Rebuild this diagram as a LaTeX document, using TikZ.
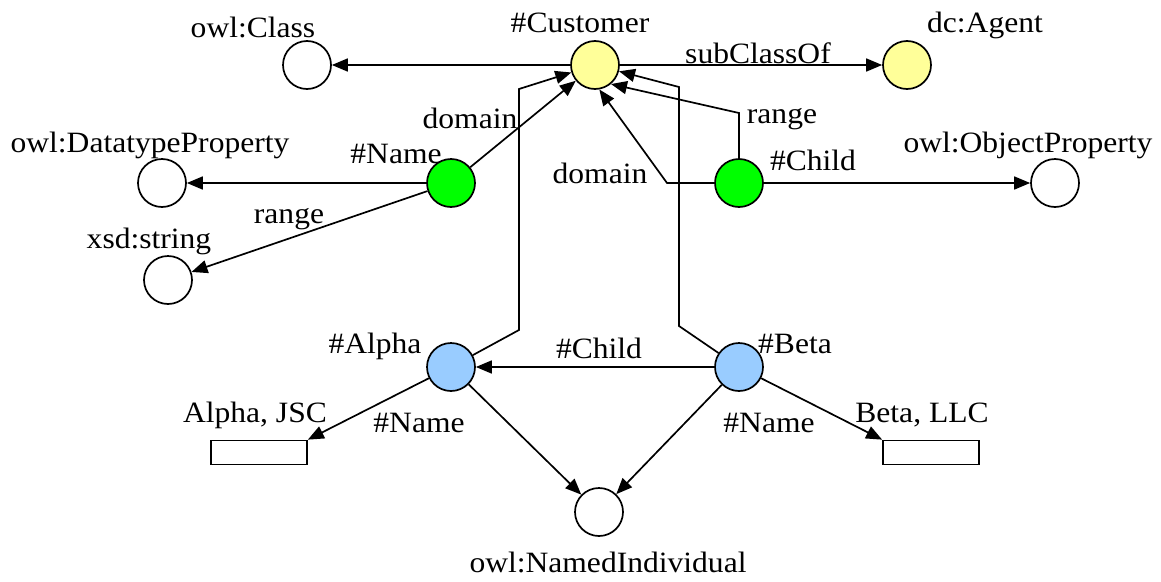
\documentclass[tikz,border=0pt]{standalone}
\usepackage{fontspec}
\setmainfont{Liberation Serif}[FakeStretch=1.07]
\usetikzlibrary{arrows.meta}
\definecolor{cyellow}{HTML}{FFFF99}
\definecolor{cgreen}{HTML}{00FF00}
\definecolor{cblue}{HTML}{99CCFF}
\begin{document}
\begin{tikzpicture}[x=1pt,y=-1pt,font=\fontsize{29.5}{34}\selectfont,
  res/.style={circle,draw,line width=1.7pt,minimum size=48pt,inner sep=0pt,fill=white},
  lit/.style={rectangle,draw,line width=1.7pt,minimum width=96pt,minimum height=24pt,inner sep=0pt,fill=white},
  txt/.style={anchor=base,inner sep=0pt},
  link/.style={line width=1.7pt,-{Triangle[length=16pt,width=13pt]}}]
\useasboundingbox (0,0) rectangle (1161,581);
% resources
\node[res] (class) at (307,65) {};
\node[res,fill=cyellow] (customer) at (595,65) {};
\node[res,fill=cyellow] (agent) at (907,65) {};
\node[res] (dtp) at (162,183) {};
\node[res,fill=cgreen] (name) at (451,183) {};
\node[res,fill=cgreen] (child) at (739,183) {};
\node[res] (objp) at (1055,183) {};
\node[res] (xsd) at (168,280) {};
\node[res,fill=cblue] (alpha) at (451,367) {};
\node[res,fill=cblue] (beta) at (739,367) {};
\node[res] (ni) at (599,512) {};
\node[lit] (alit) at (259,452.5) {};
\node[lit] (blit) at (931,452.5) {};
% bend points
\coordinate (chr1) at (739,113);
\coordinate (chd1) at (667,183);
\coordinate (al1) at (519,330);
\coordinate (al2) at (519,89);
\coordinate (be1) at (679,326);
\coordinate (be2) at (679,87);
% connectors
\draw[link] (customer) -- (class);
\draw[link] (customer) -- (agent);
\draw[link] (name) -- (customer);
\draw[link] (name) -- (dtp);
\draw[link] (name) -- (xsd);
\draw[link] (child.north) -- (chr1) -- (customer.-50);
\draw[link] (child.west) -- (chd1) -- (customer.-80);
\draw[link] (child) -- (objp);
\draw[link] (alpha) -- (al1) -- (al2) -- (customer);
\draw[link] (beta) -- (be1) -- (be2) -- (customer);
\draw[link] (beta) -- (alpha);
\draw[link] (alpha) -- (alit.north east);
\draw[link] (alpha) -- (ni);
\draw[link] (beta) -- (ni);
\draw[link] (beta) -- (blit.north west);
% labels
\node[txt] (t-class) at (253,37) {owl:Class};
\node[txt] (t-customer) at (580,32) {\#Customer};
\node[txt] (t-agent) at (985,32) {dc:Agent};
\node[txt] (t-subclass) at (758,63) {subClassOf};
\node[txt] (t-dtp) at (150,152) {owl:DatatypeProperty};
\node[txt] (t-name) at (396,163) {\#Name};
\node[txt] (t-dom1) at (470,128) {domain};
\node[txt] (t-dom2) at (600,183) {domain};
\node[txt] (t-rng1) at (782,123) {range};
\node[txt] (t-child) at (813,170) {\#Child};
\node[txt] (t-objp) at (1028,152) {owl:ObjectProperty};
\node[txt] (t-rng2) at (289,223) {range};
\node[txt] (t-xsd) at (149,248) {xsd:string};
\node[txt] (t-alpha) at (375,353) {\#Alpha};
\node[txt] (t-child2) at (599,358) {\#Child};
\node[txt] (t-beta) at (795,353) {\#Beta};
\node[txt] (t-alit) at (255,422) {Alpha, JSC};
\node[txt] (t-name2) at (419,432) {\#Name};
\node[txt] (t-name3) at (769,432) {\#Name};
\node[txt] (t-blit) at (922,422) {Beta, LLC};
\node[txt] (t-ni) at (608,572) {owl:NamedIndividual};
\end{tikzpicture}
\end{document}
